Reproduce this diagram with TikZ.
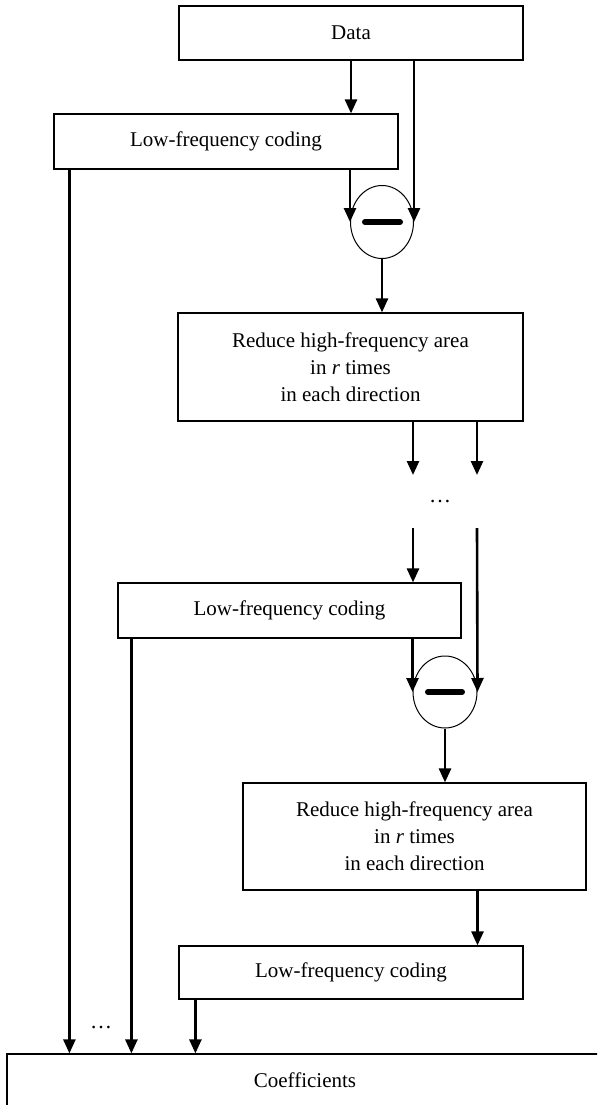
\documentclass[tikz,border=0pt]{standalone}
\usepackage{fontspec}
\setmainfont{Liberation Serif}
\usetikzlibrary{positioning,shapes,arrows.meta,calc}

\begin{document}
\begin{tikzpicture}[x=1pt,y=-1pt,
  every node/.style={draw,line width=1.2pt,inner sep=0pt,align=center,
    font=\fontsize{21}{27}\selectfont},
  box/.style={rectangle,minimum height=55},
  subnode/.style={ellipse,line width=1pt,minimum width=63,minimum height=73},
  plain/.style={draw=none,font=\fontsize{22}{22}\selectfont},
  arr/.style={line width=2.6pt,-{Triangle[length=14pt,width=12pt]}}
]
\useasboundingbox (0,0) rectangle (597,1105);
\clip (0,0) rectangle (597,1105);
% first level
\node[box,minimum width=344,minimum height=54] (data) at (351,33) {Data};
\node[box,minimum width=344] (lf1) at (226,141.5) {Low-frequency coding};
\node[subnode] (sub1) at (382,222) {};
\node[box,minimum width=345,minimum height=108] (red1) at (350.5,367)
  {Reduce high-frequency area\\ in \textit{r} times\\ in each direction};
% next levels
\coordinate (d1) at (413,475);
\coordinate (d2) at (477,475);
\coordinate (u1) at (413,528);
\coordinate (u2) at (477,528);
\node[plain] (dots1) at (440,502) {\dots};
\node[box,minimum width=343] (lf2) at (289.5,610.5) {Low-frequency coding};
\node[subnode,minimum width=64,minimum height=72] (sub2) at (445,692) {};
\node[box,minimum width=343,minimum height=107] (red2) at (414.5,836.5)
  {Reduce high-frequency area\\ in \textit{r} times\\ in each direction};
\node[box,minimum width=344,minimum height=53] (lf3) at (351,972.5) {Low-frequency coding};
\node[plain] (dots2) at (101,1027) {\dots};
\node[box,minimum width=596,minimum height=52] (coef) at (305,1080) {Coefficients};

\draw[line width=6pt,line cap=round] ([xshift=-17]sub1.center) -- ([xshift=18]sub1.center);
\draw[line width=6pt,line cap=round] ([xshift=-17]sub2.center) -- ([xshift=17]sub2.center);

\draw[arr] (data.south) -- (data.south |- lf1.north);
\draw[arr] (data.south -| sub1.east) -- (sub1.east);
\draw[arr] (lf1.south -| sub1.west) -- (sub1.west);
\draw[arr] (sub1.south) -- (sub1.south |- red1.north);
\draw[arr] (red1.south -| d1) -- (d1);
\draw[arr] (red1.south -| d2) -- (d2);
\draw[arr] (u1) -- (u1 |- lf2.north);
\draw[arr] (u2) -- (sub2.east);
\draw[arr] (lf2.south -| sub2.west) -- (sub2.west);
\draw[arr] (sub2.south) -- (sub2.south |- red2.north);
\draw[arr] (red2.south -| sub2.east) -- (sub2.east |- lf3.north);
\draw[arr] ([xshift=16]lf1.south west) -- ([xshift=16]lf1.south west |- coef.north);
\draw[arr] ([xshift=14]lf2.south west) -- ([xshift=14]lf2.south west |- coef.north);
\draw[arr] ([xshift=17]lf3.south west) -- ([xshift=17]lf3.south west |- coef.north);
\end{tikzpicture}
\end{document}
